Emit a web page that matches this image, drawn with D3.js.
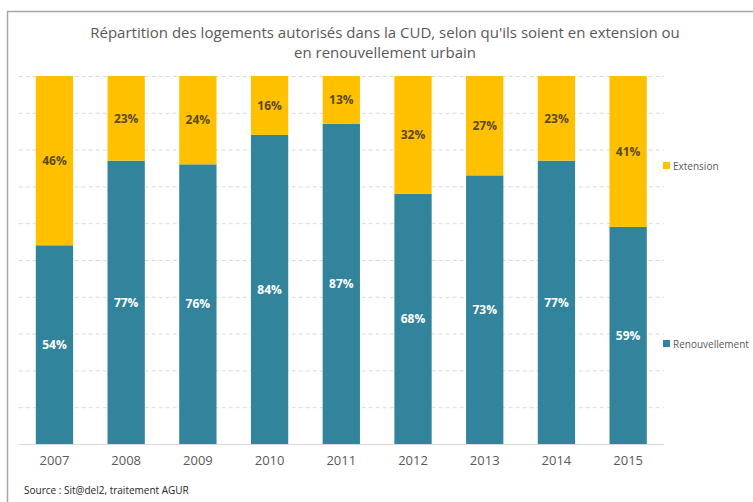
<!DOCTYPE html>
<html>
<head>
<meta charset="utf-8">
<script src="https://cdn.jsdelivr.net/npm/d3@7"></script>
<style>
  html, body { margin: 0; padding: 0; background: #fff; }
  svg { display: block; }
  text { font-family: "Open Sans", "Noto Sans", sans-serif; }
</style>
</head>
<body>
<svg id="chart" width="753" height="502"></svg>
<script>
// Years of authorised housing data
const years = ["2007", "2008", "2009", "2010", "2011", "2012", "2013", "2014", "2015"];
// Share of housing in urban renewal (%)
const renouvellement = [54, 77, 76, 84, 87, 68, 73, 77, 59];
// Share of housing in extension (%)
const extension = [46, 23, 24, 16, 13, 32, 27, 23, 41];
// Gridline values (%)
const gridTicks = [0, 10, 20, 30, 40, 50, 60, 70, 80, 90, 100];

const titleLines = [
  "Répartition des logements autorisés dans la CUD, selon qu'ils soient en extension ou",
  "en renouvellement urbain"
];
const sourceText = "Source : Sit@del2, traitement AGUR";

const colors = { Renouvellement: "#31849B", Extension: "#FFC000" };

const svg = d3.select("#chart");

// Outer chart frame
svg.append("rect")
  .attr("x", 7.5).attr("y", 11.5)
  .attr("width", 760).attr("height", 510)
  .attr("fill", "#fff")
  .attr("stroke", "#a6a6a6").attr("stroke-width", 1.5);

const plot = { left: 18.6, right: 664, top: 76, bottom: 444 };

const x = d3.scaleBand()
  .domain(years)
  .range([plot.left, plot.right])
  .paddingInner(0.48).paddingOuter(0.24);

const y = d3.scaleLinear()
  .domain([0, 100])
  .range([plot.bottom, plot.top]);

// Dashed horizontal gridlines
const grid = svg.append("g")
  .attr("transform", `translate(${plot.left},0)`)
  .call(d3.axisLeft(y).tickValues(gridTicks).tickSize(-(plot.right - plot.left)).tickFormat(""));
grid.select(".domain").remove();
grid.selectAll(".tick line")
  .attr("stroke", "#d9d9d9")
  .attr("stroke-dasharray", d => d === 0 ? null : "4,3");

// Stack the two series
const rows = years.map((yr, i) => ({ year: yr, Renouvellement: renouvellement[i], Extension: extension[i] }));
const stack = d3.stack().keys(["Renouvellement", "Extension"]);
const series = stack(rows);

const layers = svg.append("g").selectAll("g")
  .data(series)
  .join("g")
  .attr("fill", d => colors[d.key]);

layers.selectAll("rect")
  .data(d => d)
  .join("rect")
  .attr("x", d => x(d.data.year))
  .attr("width", x.bandwidth())
  .attr("y", d => y(d[1]))
  .attr("height", d => y(d[0]) - y(d[1]));

// Value labels centred in each segment
layers.selectAll("text")
  .data(d => d.map(v => ({ v, key: d.key })))
  .join("text")
  .attr("x", d => x(d.v.data.year) + x.bandwidth() / 2)
  .attr("y", d => (y(d.v[0]) + y(d.v[1])) / 2)
  .attr("dy", "0.35em")
  .attr("text-anchor", "middle")
  .attr("font-size", 12)
  .attr("font-weight", "bold")
  .attr("fill", d => d.key === "Extension" ? "#5b4a1e" : "#ffffff")
  .text(d => d.v.data[d.key] + "%");

// X axis with year labels
const xAxis = svg.append("g")
  .attr("transform", `translate(0,${plot.bottom})`)
  .call(d3.axisBottom(x).tickSize(0).tickPadding(12));
xAxis.select(".domain").remove();
xAxis.selectAll("text")
  .attr("font-size", 13)
  .attr("fill", "#595959");

// Title
svg.append("g").selectAll("text")
  .data(titleLines)
  .join("text")
  .attr("x", 385)
  .attr("y", (d, i) => 38 + i * 20)
  .attr("text-anchor", "middle")
  .attr("font-size", 15)
  .attr("fill", "#595959")
  .text(d => d);

// Legend
const legendItems = [
  { key: "Extension", y: 166 },
  { key: "Renouvellement", y: 344 }
];
const legend = svg.append("g").selectAll("g")
  .data(legendItems)
  .join("g")
  .attr("transform", d => `translate(663,${d.y})`);
legend.append("rect")
  .attr("x", 0).attr("y", -4)
  .attr("width", 7).attr("height", 7)
  .attr("fill", d => colors[d.key]);
legend.append("text")
  .attr("x", 10).attr("y", 0)
  .attr("dy", "0.35em")
  .attr("font-size", 10)
  .attr("fill", "#595959")
  .text(d => d.key);

// Source note
svg.append("text")
  .attr("x", 24).attr("y", 494)
  .attr("font-size", 10)
  .attr("fill", "#262626")
  .text(sourceText);
</script>
</body>
</html>
